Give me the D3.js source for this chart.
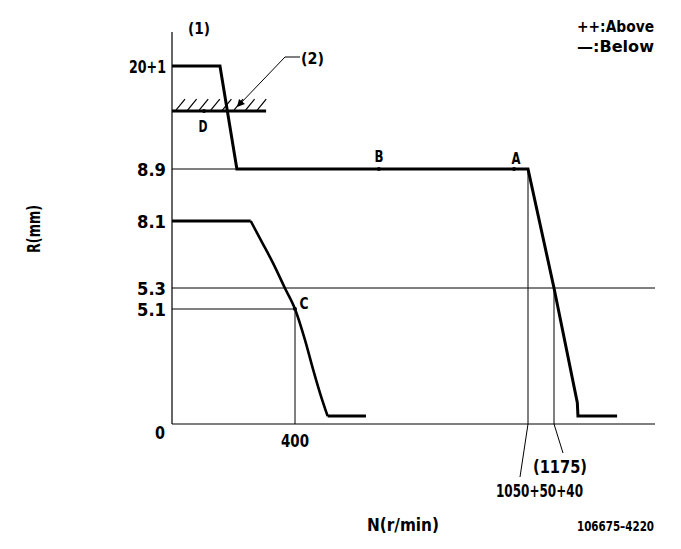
<!DOCTYPE html>
<html><head><meta charset="utf-8">
<script src="https://cdn.jsdelivr.net/npm/d3@7"></script>
<style>
body{margin:0;background:#fff;}
text{font-family:"DejaVu Sans Condensed","Liberation Sans Narrow","Liberation Sans",sans-serif;font-weight:bold;fill:#000;}
</style></head>
<body><svg id="c" width="681" height="549"></svg>
<script>
// ---- data ----
const yTickValues = [0, 5.1, 5.3, 8.1, 8.9, 21];
const yTickLabels = ["0", "5.1", "5.3", "8.1", "8.9", "20+1"];
const xTickValues = [400];
const xTickLabels = ["400"];
// upper curve (rpm, mm)
const upperN = [0, 156, 211, 1050, 1175, 1287, 1290, 1478];
const upperR = [21, 21, 8.9, 8.9, 5.3, 0.95, 0.35, 0.35];
// lower curve: flat start, smooth fall, flat end
const lowerN = [0, 256, 292, 329, 367, 400, 428, 451, 470, 491, 598];
const lowerR = [8.1, 8.1, 7.23, 6.33, 5.3, 5.1, 3.72, 2.39, 1.36, 0.35, 0.35];
// labelled points
const pointNames = ["A", "B", "C", "D"];
const pointN = [1011, 634, 400, 104];
const pointR = [8.9, 8.9, 5.1, 15.7];
const dLevel = 15.7, dEndN = 306;
const speedA = 1050, speedMax = 1175, speedC = 400;
const legendLines = ["++:Above", "\u2014:Below"];

// ---- scales (schematic, piecewise) ----
const x = d3.scaleLinear().domain([0, 400, 1050, 1175, 1660]).range([172, 295, 528, 554, 655]);
const y = d3.scaleLinear().domain([0, 5.1, 5.3, 8.1, 8.9, 21, 25]).range([424, 309, 288, 221, 169, 66, 32]);

const svg = d3.select("#c");
const g = svg.append("g");

function label(tx, ty, str, size, anchor, len) {
  const t = g.append("text").attr("x", tx).attr("y", ty).attr("dy", "0.36em")
    .attr("text-anchor", anchor || "start").attr("font-size", size).text(str);
  if (len) t.attr("textLength", len).attr("lengthAdjust", "spacingAndGlyphs");
  return t;
}

// axes
g.append("line").attr("x1", x(0)).attr("x2", x(0)).attr("y1", y(25)).attr("y2", y(0)).attr("stroke", "#000").attr("stroke-width", 1.2);
g.append("line").attr("x1", x(0)).attr("x2", x(1660)).attr("y1", y(0)).attr("y2", y(0)).attr("stroke", "#000").attr("stroke-width", 1.2);

// y tick labels
const yLabelLen = {"0": 10, "5.1": 29, "5.3": 29, "8.1": 29, "8.9": 29, "20+1": 37};
yTickValues.forEach((v, i) => {
  const isZero = v === 0;
  label(isZero ? 165 : 166, isZero ? y(v) + 9 : y(v) + 1, yTickLabels[i], 17, "end", yLabelLen[yTickLabels[i]]);
});
xTickValues.forEach((v, i) => {
  label(x(v), y(0) + 17, xTickLabels[i], 17, "middle", 28);
});

// thin reference lines
const thin = (x1, y1, x2, y2) => g.append("line").attr("x1", x1).attr("y1", y1).attr("x2", x2).attr("y2", y2).attr("stroke", "#000").attr("stroke-width", 1);
thin(x(0), y(8.9), x(211), y(8.9));
thin(x(0), y(5.3), x(1660), y(5.3));
thin(x(0), y(5.1), x(speedC), y(5.1));
thin(x(speedC), y(5.1), x(speedC), y(0));
thin(x(speedA), y(8.9), x(speedA), y(0));
thin(x(speedMax), y(5.3), x(speedMax), y(0));
// leaders to bottom labels
thin(x(speedA), y(0), x(speedA) - 8, 477);
thin(x(speedMax), y(0), x(speedMax) + 9, 453);

// curves
const line = d3.line().x(d => x(d[0])).y(d => y(d[1]));
g.append("path").datum(upperN.map((n, i) => [n, upperR[i]])).attr("d", line)
  .attr("fill", "none").attr("stroke", "#000").attr("stroke-width", 3).attr("stroke-linejoin", "miter");
const lowerPts = lowerN.map((n, i) => [n, lowerR[i]]);
const smooth = d3.line().x(d => x(d[0])).y(d => y(d[1])).curve(d3.curveMonotoneX);
g.append("path").datum(lowerPts.slice(0, 2)).attr("d", line)
  .attr("fill", "none").attr("stroke", "#000").attr("stroke-width", 3);
g.append("path").datum(lowerPts.slice(1, lowerPts.length - 1)).attr("d", smooth)
  .attr("fill", "none").attr("stroke", "#000").attr("stroke-width", 2.6);
g.append("path").datum(lowerPts.slice(lowerPts.length - 2)).attr("d", line)
  .attr("fill", "none").attr("stroke", "#000").attr("stroke-width", 3);

// D line with hatch
g.append("line").attr("x1", x(0)).attr("x2", x(dEndN)).attr("y1", y(dLevel)).attr("y2", y(dLevel)).attr("stroke", "#000").attr("stroke-width", 3);
d3.range(176, 262, 11.6).forEach(px => {
  g.append("line").attr("x1", px).attr("y1", y(dLevel) - 1).attr("x2", px + 9).attr("y2", y(dLevel) - 12).attr("stroke", "#000").attr("stroke-width", 1.2);
});

// point markers and labels
const labelOff = {A: [2, -11], B: [0, -13], C: [9, -6], D: [-1, 15]};
pointNames.forEach((nm, i) => {
  const px = x(pointN[i]), py = y(pointR[i]);
  g.append("circle").attr("cx", px).attr("cy", py).attr("r", 2).attr("fill", "#000");
  label(px + labelOff[nm][0], py + labelOff[nm][1], nm, 16, "middle", 9);
});

// (2) leader with arrow
g.append("polyline").attr("points", "300,57 285,57 239,105").attr("fill", "none").attr("stroke", "#000").attr("stroke-width", 1);
g.append("path").attr("d", "M237,107 L239,99 L245,104 Z").attr("fill", "#000");
label(301, 58, "(2)", 16, "start", 23);
label(199, 28, "(1)", 16, "middle", 22);

// legend
legendLines.forEach((t, i) => label(654, 26 + i * 20, t, 16, "end", 77));

// bottom labels
label(560, 467, "(1175)", 17, "middle", 54);
label(539.5, 491, "1050+50+40", 17, "middle", 87);
label(654, 526, "106675\u20134220", 14, "end", 77);

// axis titles
label(403, 525, "N(r/min)", 18, "middle", 72);
g.append("text").attr("transform", "translate(34,229) rotate(-90)").attr("dy", "0.36em")
  .attr("text-anchor", "middle").attr("font-size", 18)
  .attr("textLength", 48).attr("lengthAdjust", "spacingAndGlyphs").text("R(mm)");
</script></body></html>
